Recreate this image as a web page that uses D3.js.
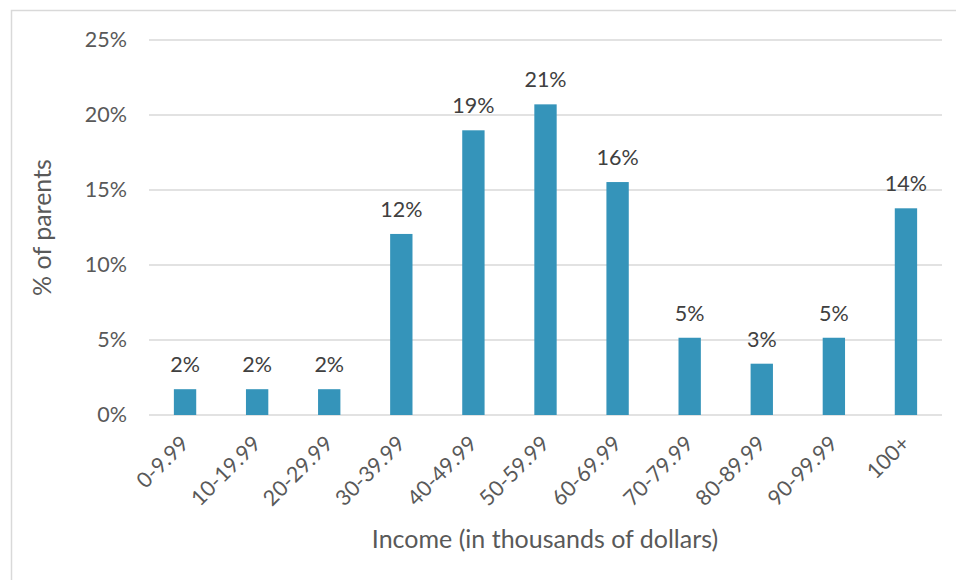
<!DOCTYPE html>
<html>
<head>
<meta charset="utf-8">
<script src="https://cdn.jsdelivr.net/npm/d3@7"></script>
<style>
  html, body { margin: 0; padding: 0; background: #fff; }
  svg { display: block; }
  text { font-family: Lato, "Open Sans", sans-serif; }
</style>
</head>
<body>
<svg id="chart" width="956" height="580"></svg>
<script>
// Share of parents by household income bracket
const categories = ["0-9.99", "10-19.99", "20-29.99", "30-39.99", "40-49.99", "50-59.99",
                    "60-69.99", "70-79.99", "80-89.99", "90-99.99", "100+"];
const shares = [0.0172, 0.0172, 0.0172, 0.1207, 0.1898, 0.2071, 0.1553, 0.0515, 0.0342, 0.0515, 0.1378];
const yTicks = [0, 0.05, 0.10, 0.15, 0.20, 0.25];

const svg = d3.select("#chart");
const margin = { left: 149, right: 14, top: 40, bottom: 165 };
const W = 956, H = 580;
const labelSize = 21.5;

// chart frame
svg.append("rect")
  .attr("x", 11.5).attr("y", 10.5)
  .attr("width", W).attr("height", H)
  .attr("fill", "none").attr("stroke", "#d9d9d9").attr("stroke-width", 1.5);

const x = d3.scaleBand()
  .domain(categories)
  .range([margin.left, W - margin.right])
  .paddingInner(0.69)
  .paddingOuter(0.345);

const y = d3.scaleLinear()
  .domain([0, 0.25])
  .range([H - margin.bottom, margin.top]);

// horizontal gridlines
svg.append("g")
  .selectAll("line")
  .data(yTicks)
  .join("line")
  .attr("x1", margin.left).attr("x2", W - margin.right)
  .attr("y1", d => y(d)).attr("y2", d => y(d))
  .attr("stroke", "#d9d9d9").attr("stroke-width", 1.5);

// y axis labels
const yAxis = d3.axisLeft(y).tickValues(yTicks).tickFormat(d3.format(".0%")).tickSize(0).tickPadding(22);
const gy = svg.append("g").attr("transform", `translate(${margin.left},0)`).call(yAxis);
gy.select(".domain").remove();
gy.selectAll("text").attr("font-size", labelSize).attr("fill", "#595959").attr("font-family", "Lato, sans-serif");

// bars
svg.append("g")
  .selectAll("rect")
  .data(shares)
  .join("rect")
  .attr("x", (d, i) => x(categories[i]))
  .attr("width", x.bandwidth())
  .attr("y", d => y(d))
  .attr("height", d => y(0) - y(d))
  .attr("fill", "#3594ba");

// value labels
svg.append("g")
  .selectAll("text")
  .data(shares)
  .join("text")
  .attr("x", (d, i) => x(categories[i]) + x.bandwidth() / 2)
  .attr("y", d => y(d) - 17)
  .attr("text-anchor", "middle")
  .attr("font-size", labelSize)
  .attr("fill", "#404040")
  .text(d => d3.format(".0%")(d));

// x axis category labels, rotated
const xAxis = d3.axisBottom(x).tickSize(0).tickPadding(0);
const gx = svg.append("g").attr("transform", `translate(0,${y(0)})`).call(xAxis);
gx.select(".domain").remove();
gx.selectAll("text")
  .attr("font-size", labelSize)
  .attr("fill", "#595959")
  .attr("font-family", "Lato, sans-serif")
  .attr("text-anchor", "end")
  .attr("dy", null)
  .attr("transform", "translate(5,30) rotate(-45)");

// axis titles
svg.append("text")
  .attr("x", 545)
  .attr("y", 548)
  .attr("text-anchor", "middle")
  .attr("font-size", 25)
  .attr("fill", "#595959")
  .text("Income (in thousands of dollars)");

svg.append("text")
  .attr("transform", `translate(51,${(y(0) + y(0.25)) / 2}) rotate(-90)`)
  .attr("text-anchor", "middle")
  .attr("font-size", 25)
  .attr("fill", "#595959")
  .text("% of parents");
</script>
</body>
</html>
